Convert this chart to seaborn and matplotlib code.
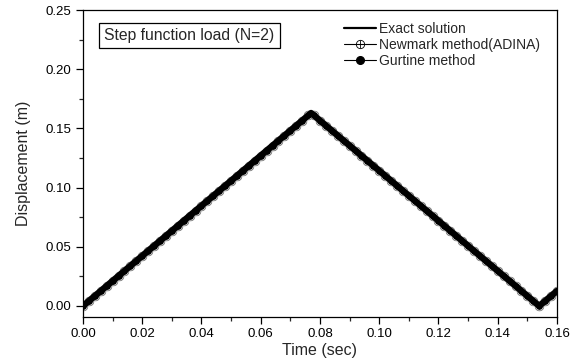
import numpy as np
import pandas as pd
import matplotlib
matplotlib.use("Agg")
import matplotlib.pyplot as plt
import seaborn as sns
from matplotlib.lines import Line2D
from matplotlib.legend_handler import HandlerTuple
from matplotlib.ticker import AutoMinorLocator

# ---- data ----
t_exact = [0.000, 0.077, 0.154, 0.160]
y_exact = [0.000, 0.163, 0.000, 0.0127]

time = [round(0.002 * i, 3) for i in range(81)]
newmark = [0.0000, 0.0042, 0.0085, 0.0127, 0.0169, 0.0212, 0.0254, 0.0296, 0.0339, 0.0381,
           0.0423, 0.0466, 0.0508, 0.0550, 0.0593, 0.0635, 0.0677, 0.0720, 0.0762, 0.0804,
           0.0847, 0.0889, 0.0931, 0.0974, 0.1016, 0.1058, 0.1101, 0.1143, 0.1185, 0.1228,
           0.1270, 0.1312, 0.1355, 0.1397, 0.1439, 0.1482, 0.1524, 0.1566, 0.1609, 0.1609,
           0.1566, 0.1524, 0.1482, 0.1439, 0.1397, 0.1355, 0.1312, 0.1270, 0.1228, 0.1185,
           0.1143, 0.1101, 0.1058, 0.1016, 0.0974, 0.0931, 0.0889, 0.0847, 0.0804, 0.0762,
           0.0720, 0.0677, 0.0635, 0.0593, 0.0550, 0.0508, 0.0466, 0.0423, 0.0381, 0.0339,
           0.0296, 0.0254, 0.0212, 0.0169, 0.0127, 0.0085, 0.0042, 0.0000, 0.0042, 0.0085,
           0.0127]
gurtine = list(newmark)

xticks = [0.00, 0.02, 0.04, 0.06, 0.08, 0.10, 0.12, 0.14, 0.16]
yticks = [0.00, 0.05, 0.10, 0.15, 0.20, 0.25]

sns.set_style("ticks")
plt.rcParams['font.family'] = ['Liberation Sans', 'DejaVu Sans']

fig = plt.figure(figsize=(5.77, 3.60), dpi=100)
ax = fig.add_axes([0.1438, 0.1205, 0.8215, 0.8517])

df_n = pd.DataFrame({"t": time, "y": newmark})
df_g = pd.DataFrame({"t": time, "y": gurtine})
df_e = pd.DataFrame({"t": t_exact, "y": y_exact})

sns.lineplot(data=df_n, x="t", y="y", ax=ax, color="black", lw=1.0, marker="o",
             markersize=6.2, markerfacecolor="none", markeredgecolor="#666666",
             markeredgewidth=0.6, sort=False, estimator=None)
sns.lineplot(data=df_n, x="t", y="y", ax=ax, color="black", lw=0, marker="+",
             markersize=6.2, markeredgecolor="#666666", markeredgewidth=0.6,
             sort=False, estimator=None)
sns.lineplot(data=df_g, x="t", y="y", ax=ax, color="black", lw=1.0, marker="o",
             markersize=5.2, markeredgewidth=0.3, sort=False, estimator=None)
sns.lineplot(data=df_e, x="t", y="y", ax=ax, color="black", lw=4.6, sort=False,
             estimator=None)

ax.set_xlim(0.0, 0.16)
ax.set_ylim(-0.009, 0.25)
ax.set_xticks(xticks)
ax.set_yticks(yticks)
ax.set_xticklabels([f"{v:.2f}" for v in xticks])
ax.set_yticklabels([f"{v:.2f}" for v in yticks])
ax.xaxis.set_minor_locator(AutoMinorLocator(2))
ax.yaxis.set_minor_locator(AutoMinorLocator(2))
ax.tick_params(which="major", direction="out", length=5, width=0.9, labelsize=9.5,
               colors="black", top=False, right=False)
ax.tick_params(which="minor", direction="out", length=3, width=0.9, top=False, right=False)
for s in ax.spines.values():
    s.set_visible(True)
    s.set_linewidth(0.9)
    s.set_color("black")
ax.set_xlabel("Time (sec)", fontsize=11.5, labelpad=2)
ax.set_ylabel("Displacement (m)", fontsize=11.5, labelpad=10)

ax.text(0.0072, 0.2285, "Step function load (N=2)", fontsize=11.3, va="center", ha="left",
        bbox=dict(boxstyle="square,pad=0.33", facecolor="white", edgecolor="black", lw=0.9))

h_exact = Line2D([], [], color="black", lw=1.6)
h_new_o = Line2D([], [], color="black", lw=0.8, marker="o", markersize=6,
                 markerfacecolor="none", markeredgewidth=0.6)
h_new_p = Line2D([], [], color="black", lw=0, marker="+", markersize=6, markeredgewidth=0.6)
h_gur = Line2D([], [], color="black", lw=0.8, marker="o", markersize=5.5)
ax.legend([h_exact, (h_new_o, h_new_p), h_gur],
          ["Exact solution", "Newmark method(ADINA)", "Gurtine method"],
          handler_map={tuple: HandlerTuple(ndivide=1)},
          loc="upper left", bbox_to_anchor=(0.53, 0.993), frameon=False,
          fontsize=10, handlelength=2.3, handletextpad=0.2, labelspacing=0.14,
          borderaxespad=0.3)

fig.savefig("out.png", dpi=100)
